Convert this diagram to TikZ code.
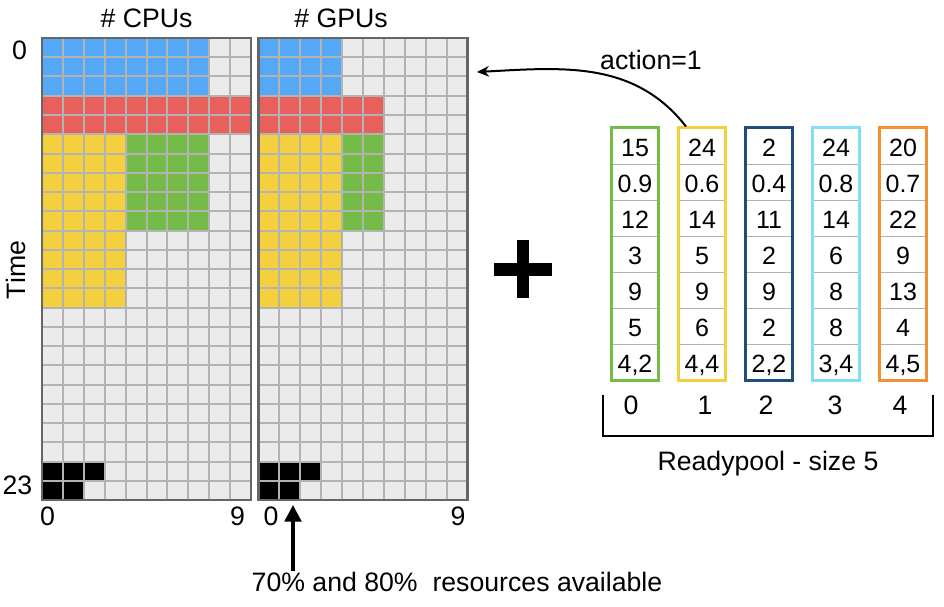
\documentclass[tikz,border=0pt]{standalone}
\usepackage{fontspec}
\setmainfont{Liberation Sans}
\usetikzlibrary{arrows.meta}

\definecolor{cellgrey}{HTML}{EBEBEB}
\definecolor{linegrey}{HTML}{B3B3B3}
\definecolor{framegrey}{HTML}{666666}
\definecolor{jobblue}{HTML}{55A8F6}
\definecolor{jobred}{HTML}{E95F5C}
\definecolor{jobyellow}{HTML}{F4D03F}
\definecolor{jobgreen}{HTML}{74BC47}
\definecolor{poolgreen}{HTML}{74BC47}
\definecolor{poolyellow}{HTML}{F4D03F}
\definecolor{poolblue}{HTML}{1F4E7E}
\definecolor{poolcyan}{HTML}{80E0F8}
\definecolor{poolorange}{HTML}{EF9134}

\begin{document}
\begin{tikzpicture}[x=0.75pt, y=-0.75pt, line width=0.5pt,
  txt/.style={font=\fontsize{20}{24}\selectfont, inner sep=2pt},
  num/.style={font=\fontsize{18.75}{22}\selectfont, anchor=base, inner sep=0pt},
  gridline/.style={linegrey, line width=1.5pt},
  gridframe/.style={framegrey, line width=1.9pt},
  poolbox/.style={draw, line width=2.25pt, minimum width=35.25pt, minimum height=189pt, inner sep=0pt},
  sepline/.style={linegrey, line width=0.75pt}]
  \useasboundingbox (0,0) rectangle (944,606);

  % CPU grid
  \begin{scope}[shift={(42,38)}, x=15.675pt, y=-14.4375pt]
    \fill[cellgrey] (0,0) rectangle (10,24);
    \fill[jobblue] (0,0) rectangle (8,3);
    \fill[jobred] (0,3) rectangle (10,5);
    \fill[jobyellow] (0,5) rectangle (4,14);
    \fill[jobgreen] (4,5) rectangle (8,10);
    \fill[black] (0,22) rectangle (3,23);
    \fill[black] (0,23) rectangle (2,24);
    \foreach \c in {1,...,9} \draw[gridline] (\c,0) -- (\c,24);
    \foreach \r in {1,...,23} \draw[gridline] (0,\r) -- (10,\r);
    \draw[gridframe] (0,0) rectangle (10,24);
  \end{scope}

  % GPU grid
  \begin{scope}[shift={(258.5,38)}, x=15.675pt, y=-14.4375pt]
    \fill[cellgrey] (0,0) rectangle (10,24);
    \fill[jobblue] (0,0) rectangle (4,3);
    \fill[jobred] (0,3) rectangle (6,5);
    \fill[jobyellow] (0,5) rectangle (4,14);
    \fill[jobgreen] (4,5) rectangle (6,10);
    \fill[black] (0,22) rectangle (3,23);
    \fill[black] (0,23) rectangle (2,24);
    \foreach \c in {1,...,9} \draw[gridline] (\c,0) -- (\c,24);
    \foreach \r in {1,...,23} \draw[gridline] (0,\r) -- (10,\r);
    \draw[gridframe] (0,0) rectangle (10,24);
  \end{scope}

  % axis labels
  \node[txt] (cputitle) at (146.5,18.5) {\# CPUs};
  \node[txt] (gputitle) at (341,18.5) {\# GPUs};
  \node[txt] (tzero) at (19.5,50) {0};
  \node[txt] (tlast) at (17.5,485) {23};
  \node[txt, rotate=90] (timelabel) at (16,270) {Time};
  \node[txt] (cpuzero) at (47.5,516) {0};
  \node[txt] (cpunine) at (237.5,516) {9};
  \node[txt] (gpuzero) at (271,516) {0};
  \node[txt] (gpunine) at (458,516) {9};

  % available resources
  \coordinate (avail) at (293,505);
  \node[txt, inner sep=1pt] (note) at (457,582) {70\% and 80\%\ \ resources available};
  \draw[line width=2.6pt, -{Triangle[length=12.5pt, width=12.5pt]}] (avail |- note.north) -- (avail);

  % plus
  \draw[line width=9.4pt] (494,269.5) -- (552,269.5);
  \draw[line width=9.4pt] (523,240) -- (523,298);

  % readypool
  \foreach \i/\clr/\vals in {0/poolgreen/{15,0.9,12,3,9,5,4{,}2},
                             1/poolyellow/{24,0.6,14,5,9,6,4{,}4},
                             2/poolblue/{2,0.4,11,2,9,2,2{,}2},
                             3/poolcyan/{24,0.8,14,6,8,8,3{,}4},
                             4/poolorange/{20,0.7,22,9,13,4,4{,}5}} {
    \node[poolbox, draw=\clr] (box\i) at ({635+67*\i},254) {};
    \foreach \r in {1,...,6}
      \draw[sepline] ({613+67*\i},{128+36*\r}) -- ({657+67*\i},{128+36*\r});
    \foreach \v [count=\r] in \vals
      \node[num] (val\i\r) at ({635+67*\i},{120.5+36*\r}) {\v};
  }
  \foreach \i/\xi in {0/631,1/705,2/766,3/835,4/900}
    \node[txt] (idx\i) at (\xi,405) {\i};
  \draw[line width=1.8pt] (603,395) -- (603,436) -- (933,436) -- (933,395);
  \node[txt, anchor=base] (poolname) at (768,470.5) {Readypool - size 5};

  % action arrow
  \coordinate (drop) at (477,72);
  \node[txt] (action) at (651,60) {action=1};
  \draw[line width=1.5pt, -{Stealth[length=9pt, width=8pt]}] ([xshift=-12pt]box1.north) to[out=128, in=3] (drop);
\end{tikzpicture}
\end{document}
